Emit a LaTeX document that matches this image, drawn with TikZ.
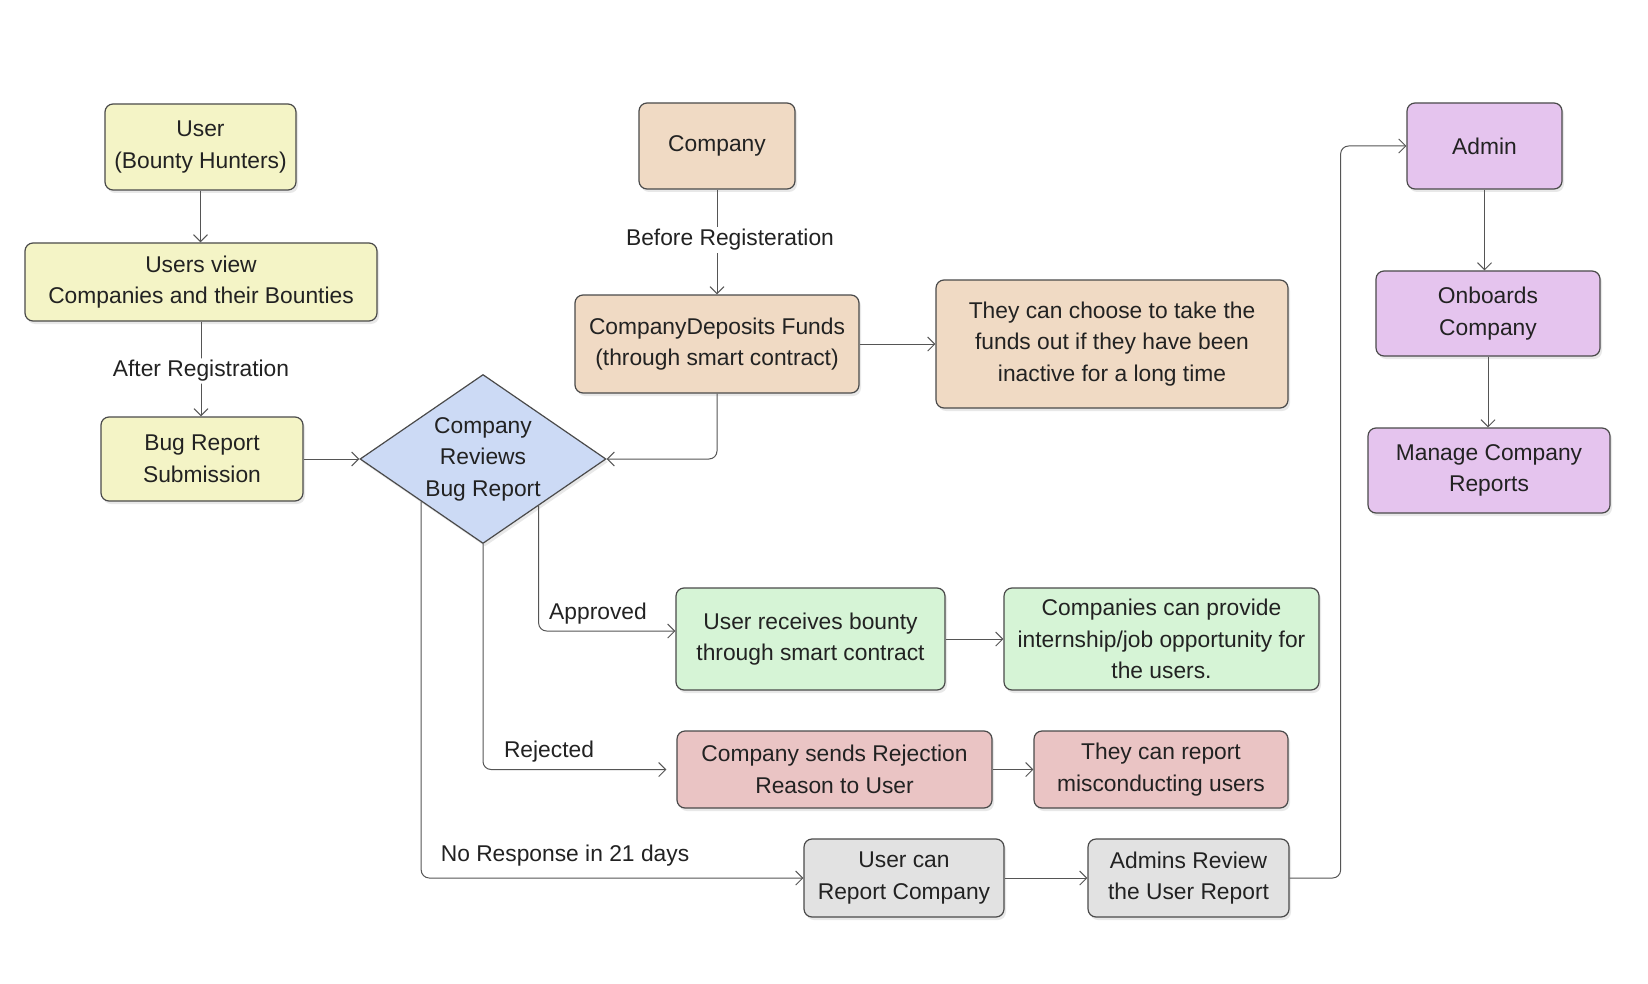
\documentclass[tikz,border=0pt]{standalone}
\usepackage{fontspec}
\setmainfont{Liberation Sans}
\usetikzlibrary{arrows.meta,shapes.geometric,shadows,calc}
\definecolor{cyel}{HTML}{F4F4C6}
\definecolor{cpea}{HTML}{F0DAC4}
\definecolor{cblu}{HTML}{CCDAF5}
\definecolor{cpur}{HTML}{E5C4EE}
\definecolor{cgrn}{HTML}{D6F4D6}
\definecolor{cred}{HTML}{EAC4C4}
\definecolor{cgry}{HTML}{E2E2E2}
\definecolor{cline}{HTML}{4A4A4A}
\definecolor{carr}{HTML}{555555}
\definecolor{ctext}{HTML}{222222}
\tikzset{
  box/.style={draw=cline, line width=1.2pt, rounded corners=8pt, align=center,
    inner sep=0pt, text=ctext, font=\fontsize{22.8pt}{31.5pt}\selectfont,
    drop shadow={shadow xshift=2pt,shadow yshift=-3pt,opacity=0.18}},
  dec/.style={draw=cline, line width=1.2pt, shape=diamond, inner sep=0pt, align=center,
    text=ctext, font=\fontsize{22.8pt}{31.5pt}\selectfont,
    drop shadow={shadow xshift=2pt,shadow yshift=-3pt,opacity=0.18}},
  arr/.style={draw=carr, line width=1pt, rounded corners=8pt,
    -{Straight Barb[length=7pt,width=14pt,line width=1pt]}},
  lbl/.style={text=ctext, font=\fontsize{22.8pt}{31.5pt}\selectfont, inner sep=2pt},
}
\begin{document}
\begin{tikzpicture}[x=1pt,y=-1pt]
\useasboundingbox[fill=white] (0,0) rectangle (1648,984);
% nodes
\node[box, fill=cyel, minimum width=191pt, minimum height=86pt] (user) at (200.5,147) {User\\(Bounty Hunters)};
\node[box, fill=cyel, minimum width=352pt, minimum height=78pt] (view) at (201,282) {Users view\\Companies and their Bounties};
\node[box, fill=cyel, minimum width=202pt, minimum height=84pt] (bug) at (202,459) {Bug Report\\Submission};
\node[dec, fill=cblu, minimum width=246pt, minimum height=169pt, aspect=1.456] (dia) at (483,459) {Company\\Reviews\\Bug Report};
\node[box, fill=cpea, minimum width=156pt, minimum height=86pt] (comp) at (717,146) {Company};
\node[box, fill=cpea, minimum width=284pt, minimum height=98pt] (dep) at (717,344) {CompanyDeposits Funds\\(through smart contract)};
\node[box, fill=cpea, minimum width=352pt, minimum height=128pt] (choose) at (1112,344) {They can choose to take the\\funds out if they have been\\inactive for a long time};
\node[box, fill=cpur, minimum width=155pt, minimum height=86pt] (admin) at (1484.5,146) {Admin};
\node[box, fill=cpur, minimum width=224pt, minimum height=85pt] (onb) at (1488,313.5) {Onboards\\Company};
\node[box, fill=cpur, minimum width=242pt, minimum height=85pt] (manage) at (1489,470.5) {Manage Company\\Reports};
\node[box, fill=cgrn, minimum width=269pt, minimum height=102pt] (recv) at (810.5,639) {User receives bounty\\through smart contract};
\node[box, fill=cgrn, minimum width=315pt, minimum height=102pt] (prov) at (1161.5,639) {Companies can provide\\internship/job opportunity for\\the users.};
\node[box, fill=cred, minimum width=315pt, minimum height=77pt] (sends) at (834.5,769.5) {Company sends Rejection\\Reason to User};
\node[box, fill=cred, minimum width=254pt, minimum height=77pt] (misc) at (1161,769.5) {They can report\\misconducting users};
\node[box, fill=cgry, minimum width=200pt, minimum height=78pt] (ucr) at (904,878) {User can\\Report Company};
\node[box, fill=cgry, minimum width=201pt, minimum height=78pt] (arev) at (1188.5,878) {Admins Review\\the User Report};
% helper coordinates
\coordinate (apr) at ($(dia.south)!0.45!(dia.east)$);
\coordinate (nor) at (dia.south west);
% connectors
\draw[arr] (user.south) -- (user.south |- view.north);
\draw[arr] (view.south) -- (view.south |- bug.north) node[lbl, pos=0.52, fill=white] (l1) {After Registration};
\draw[arr] (bug.east) -- (dia.west);
\draw[arr] (comp.south) -- (dep.north);
\node[lbl, fill=white] (l2) at (730,240) {Before Registeration};
\draw[arr] (dep.south) |- (dia.east);
\draw[arr] (dep.east) -- (choose.west);
\draw[arr] (apr) |- ($(recv.west)+(0,-8)$);
\node[lbl] (l3) at (598,614) {Approved};
\draw[arr, shorten >=10pt] (dia.south) |- (sends.west);
\node[lbl] (l4) at (549,752) {Rejected};
\draw[arr] (nor) |- (ucr.west);
\node[lbl] (l5) at (565,856) {No Response in 21 days};
\draw[arr] (recv.east) -- (prov.west);
\draw[arr] (sends.east) -- (misc.west);
\draw[arr] (ucr.east) -- (arev.west);
\draw[arr] (arev.east) -- ++(51,0) |- (admin.west);
\draw[arr] (admin.south) -- (admin.south |- onb.north);
\draw[arr] (onb.south) -- (onb.south |- manage.north);
\end{tikzpicture}
\end{document}
